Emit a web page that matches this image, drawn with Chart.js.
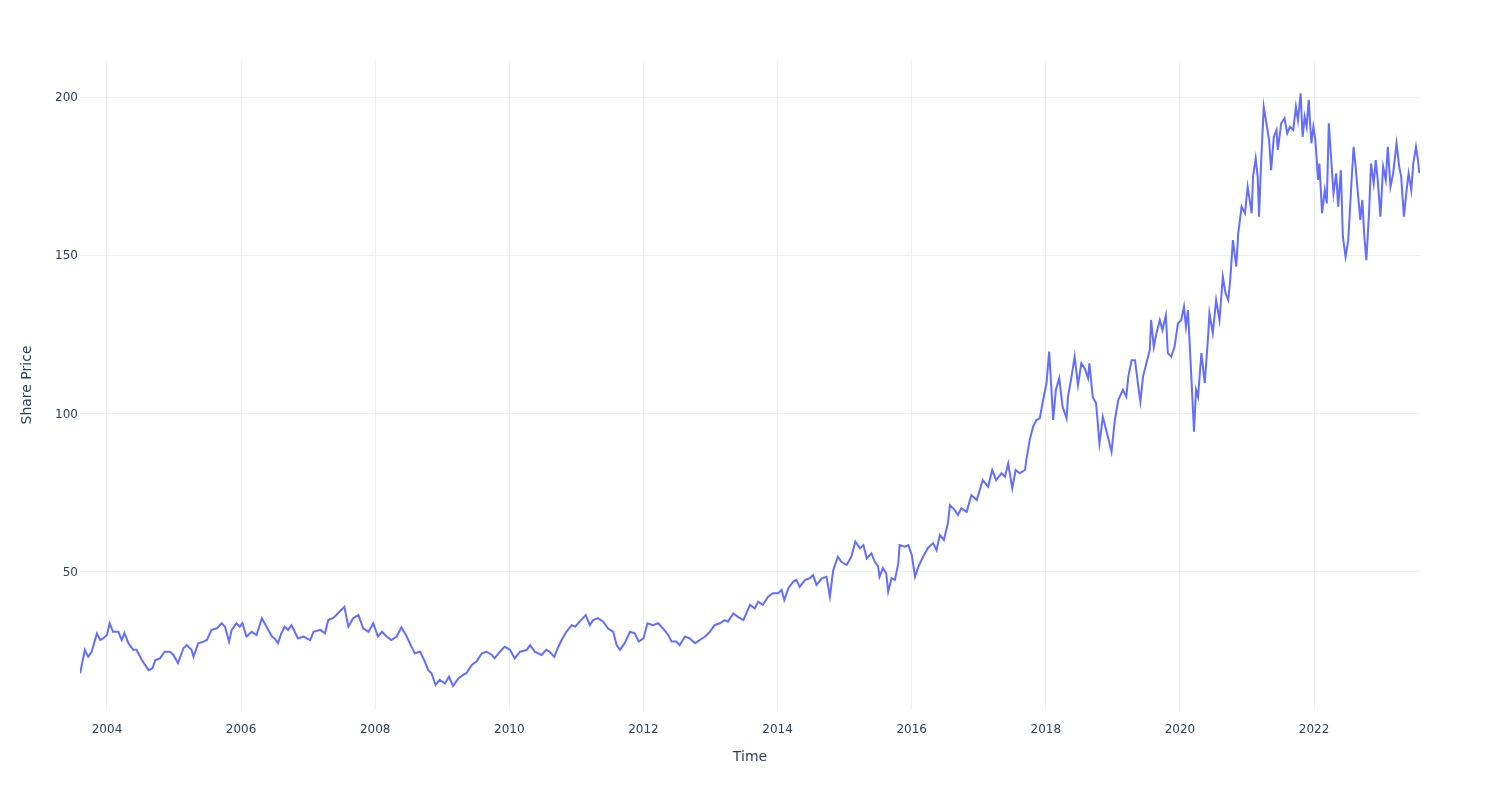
<!DOCTYPE html>
<html>
<head>
<meta charset="utf-8">
<title>Share Price</title>
<script src="https://cdn.jsdelivr.net/npm/chart.js@4/dist/chart.umd.min.js"></script>
<style>
  body { margin: 0; background: #fff; }
  #priceChart { display: block; }
</style>
</head>
<body>
<canvas id="priceChart" width="1500" height="800"></canvas>
<script>
// values (date as decimal year, price)
var dates = [
  2003.60, 2003.67, 2003.72, 2003.77, 2003.85, 2003.90, 2003.94, 2004.00, 2004.04, 2004.09,
  2004.17, 2004.22, 2004.26, 2004.32, 2004.39, 2004.44, 2004.52, 2004.62, 2004.68, 2004.72,
  2004.79, 2004.86, 2004.94, 2004.99, 2005.06, 2005.14, 2005.19, 2005.26, 2005.29, 2005.36,
  2005.44, 2005.49, 2005.56, 2005.64, 2005.71, 2005.76, 2005.82, 2005.86, 2005.93, 2005.98,
  2006.02, 2006.08, 2006.16, 2006.23, 2006.31, 2006.38, 2006.46, 2006.50, 2006.55, 2006.60,
  2006.65, 2006.70, 2006.75, 2006.80, 2006.85, 2006.93, 2007.03, 2007.08, 2007.18, 2007.25,
  2007.30, 2007.37, 2007.42, 2007.47, 2007.54, 2007.60, 2007.67, 2007.75, 2007.82, 2007.90,
  2007.97, 2008.04, 2008.10, 2008.17, 2008.24, 2008.32, 2008.39, 2008.47, 2008.54, 2008.59,
  2008.67, 2008.74, 2008.79, 2008.84, 2008.90, 2008.96, 2009.04, 2009.10, 2009.16, 2009.24,
  2009.31, 2009.36, 2009.44, 2009.51, 2009.59, 2009.66, 2009.74, 2009.78, 2009.86, 2009.93,
  2010.01, 2010.08, 2010.16, 2010.26, 2010.31, 2010.38, 2010.48, 2010.55, 2010.60, 2010.67,
  2010.73, 2010.78, 2010.85, 2010.93, 2010.98, 2011.05, 2011.14, 2011.20, 2011.25, 2011.32,
  2011.40, 2011.47, 2011.55, 2011.60, 2011.65, 2011.72, 2011.80, 2011.87, 2011.93, 2012.00,
  2012.06, 2012.14, 2012.22, 2012.29, 2012.37, 2012.42, 2012.49, 2012.54, 2012.62, 2012.69,
  2012.77, 2012.84, 2012.92, 2012.99, 2013.06, 2013.14, 2013.21, 2013.26, 2013.34, 2013.41,
  2013.49, 2013.59, 2013.66, 2013.71, 2013.78, 2013.86, 2013.93, 2014.01, 2014.06, 2014.10,
  2014.16, 2014.23, 2014.28, 2014.33, 2014.41, 2014.48, 2014.53, 2014.58, 2014.66, 2014.73,
  2014.78, 2014.83, 2014.90, 2014.95, 2015.03, 2015.10, 2015.16, 2015.23, 2015.28, 2015.33,
  2015.40, 2015.45, 2015.50, 2015.52, 2015.57, 2015.62, 2015.65, 2015.70, 2015.75, 2015.80,
  2015.82, 2015.90, 2015.95, 2016.00, 2016.05, 2016.10, 2016.17, 2016.24, 2016.32, 2016.37,
  2016.42, 2016.48, 2016.54, 2016.57, 2016.64, 2016.69, 2016.74, 2016.82, 2016.89, 2016.97,
  2017.06, 2017.14, 2017.20, 2017.26, 2017.34, 2017.39, 2017.44, 2017.50, 2017.55, 2017.61,
  2017.69, 2017.71, 2017.76, 2017.81, 2017.86, 2017.91, 2017.96, 2018.01, 2018.05, 2018.07,
  2018.11, 2018.15, 2018.20, 2018.25, 2018.31, 2018.33, 2018.38, 2018.43, 2018.48, 2018.53,
  2018.58, 2018.63, 2018.65, 2018.70, 2018.75, 2018.80, 2018.85, 2018.90, 2018.98, 2019.03,
  2019.08, 2019.15, 2019.20, 2019.23, 2019.28, 2019.33, 2019.38, 2019.41, 2019.45, 2019.50,
  2019.55, 2019.57, 2019.61, 2019.65, 2019.70, 2019.74, 2019.79, 2019.82, 2019.87, 2019.92,
  2019.97, 2020.02, 2020.06, 2020.09, 2020.12, 2020.15, 2020.17, 2020.21, 2020.24, 2020.27,
  2020.32, 2020.37, 2020.42, 2020.44, 2020.49, 2020.54, 2020.59, 2020.64, 2020.68, 2020.72,
  2020.75, 2020.79, 2020.84, 2020.87, 2020.92, 2020.97, 2021.01, 2021.07, 2021.09, 2021.13,
  2021.16, 2021.18, 2021.21, 2021.25, 2021.29, 2021.33, 2021.36, 2021.40, 2021.44, 2021.46,
  2021.51, 2021.56, 2021.60, 2021.64, 2021.69, 2021.73, 2021.76, 2021.80, 2021.83, 2021.86,
  2021.89, 2021.92, 2021.96, 2021.99, 2022.02, 2022.06, 2022.08, 2022.12, 2022.16, 2022.19,
  2022.22, 2022.26, 2022.29, 2022.33, 2022.36, 2022.40, 2022.43, 2022.47, 2022.51, 2022.56,
  2022.59, 2022.62, 2022.65, 2022.69, 2022.72, 2022.75, 2022.78, 2022.82, 2022.85, 2022.89,
  2022.92, 2022.95, 2022.99, 2023.03, 2023.07, 2023.10, 2023.14, 2023.18, 2023.23, 2023.27,
  2023.30, 2023.34, 2023.38, 2023.41, 2023.45, 2023.48, 2023.52, 2023.55, 2023.57
];

var prices = [
  18.0, 25.4, 23.2, 24.8, 30.6, 28.5, 29.0, 30.1, 33.8, 31.1,
  31.1, 28.5, 30.7, 27.5, 25.4, 25.4, 22.2, 19.0, 19.6, 22.2,
  22.7, 24.8, 24.8, 23.8, 21.2, 25.9, 26.9, 25.4, 23.2, 27.5,
  28.0, 28.5, 31.7, 32.2, 33.8, 32.7, 28.0, 31.7, 33.8, 32.7,
  33.8, 29.6, 31.1, 30.1, 35.4, 32.7, 29.6, 29.0, 27.5, 30.6,
  32.7, 31.7, 33.2, 31.1, 29.0, 29.6, 28.5, 31.1, 31.7, 30.6,
  34.8, 35.4, 36.4, 37.5, 39.0, 32.7, 35.4, 36.4, 32.2, 31.1,
  33.8, 29.6, 31.1, 29.6, 28.5, 29.6, 32.5, 29.6, 26.4, 24.3,
  24.8, 21.7, 19.0, 18.0, 14.3, 15.9, 14.8, 16.9, 14.0, 16.4,
  17.5, 18.0, 20.6, 21.7, 24.3, 24.8, 23.8, 22.7, 24.8, 26.4,
  25.4, 22.7, 24.8, 25.4, 26.9, 24.8, 23.8, 25.4, 24.8, 23.2,
  26.4, 28.5, 31.1, 33.2, 32.7, 34.3, 36.4, 33.2, 34.8, 35.4,
  34.3, 32.2, 31.1, 26.9, 25.4, 27.5, 31.1, 30.6, 28.0, 29.0,
  33.8, 33.2, 33.8, 32.2, 30.1, 28.0, 28.0, 26.9, 29.6, 29.0,
  27.5, 28.5, 29.6, 31.1, 33.2, 33.8, 34.8, 34.3, 36.9, 35.8,
  34.8, 39.6, 38.5, 40.6, 39.6, 42.2, 43.3, 43.3, 44.3, 41.1,
  44.8, 46.9, 47.5, 45.3, 47.5, 48.0, 49.0, 45.9, 48.0, 48.5,
  42.2, 50.6, 54.8, 53.2, 52.2, 54.8, 59.6, 57.5, 58.5, 54.3,
  55.9, 53.2, 51.7, 48.5, 51.2, 49.6, 43.8, 48.0, 47.5, 52.7,
  58.5, 58.0, 58.5, 55.4, 48.5, 51.7, 54.8, 57.5, 59.1, 56.9,
  61.7, 60.1, 65.4, 71.1, 69.6, 68.0, 70.1, 69.0, 74.3, 72.7,
  79.0, 76.9, 82.2, 79.0, 81.2, 80.1, 84.3, 76.4, 82.2, 81.2,
  82.2, 85.4, 91.7, 95.9, 98.0, 98.5, 104.3, 109.6, 119.6, 112.7,
  98.0, 107.5, 111.2, 102.2, 98.5, 105.3, 111.2, 118.0, 109.0, 115.9,
  114.3, 111.2, 115.9, 105.3, 103.3, 90.6, 99.0, 94.8, 88.0, 98.0,
  104.3, 107.5, 105.3, 111.7, 116.9, 116.9, 108.5, 103.8, 111.7, 115.9,
  120.1, 129.6, 121.1, 125.4, 129.6, 126.4, 131.1, 119.1, 118.0, 121.1,
  128.5, 129.6, 133.8, 127.5, 132.7, 120.1, 111.7, 94.3, 107.5, 105.3,
  119.1, 109.6, 124.3, 131.7, 125.4, 135.9, 129.6, 143.2, 138.0, 135.9,
  142.2, 154.8, 146.4, 157.0, 165.4, 163.3, 171.7, 163.3, 174.8, 180.6,
  174.8, 162.2, 179.0, 196.9, 191.7, 186.4, 176.9, 187.4, 189.6, 183.3,
  191.7, 193.3, 188.5, 190.6, 189.6, 196.9, 192.7, 201.2, 187.4, 193.8,
  190.6, 199.1, 185.4, 190.6, 186.4, 173.8, 179.0, 163.3, 170.6, 166.4,
  191.7, 179.0, 169.6, 175.9, 165.4, 176.9, 155.9, 149.6, 154.8, 173.8,
  184.3, 178.0, 170.6, 161.2, 167.5, 155.9, 148.5, 163.3, 179.0, 172.7,
  180.1, 173.8, 162.2, 178.0, 173.8, 184.3, 171.7, 175.9, 185.4, 178.0,
  174.8, 162.2, 170.6, 175.9, 170.6, 179.0, 184.3, 180.1, 176.0
];

var yearTicks = [2004, 2006, 2008, 2010, 2012, 2014, 2016, 2018, 2020, 2022];
var priceTicks = [50, 100, 150, 200];

var fontFamily = '"DejaVu Sans", Verdana, Arial, sans-serif';
var textColor = '#2a3f5f';
var gridColor = '#ebf0f8';

var points = dates.map(function (d, i) { return { x: d, y: prices[i] }; });

var ctx = document.getElementById('priceChart').getContext('2d');
var priceChart = new Chart(ctx, {
	type: 'line',
	data: {
		datasets: [{
			label: 'Share Price',
			data: points,
			fill: false,
			borderColor: '#636efa',
			backgroundColor: '#636efa',
			borderWidth: 2,
			pointRadius: 0,
			tension: 0
		}]
	},
	options: {
		responsive: false,
		animation: false,
		layout: {
			padding: { top: 60, right: 80, bottom: 0, left: 0 }
		},
		plugins: {
			legend: { display: false },
			tooltip: { enabled: false }
		},
		scales: {
			x: {
				type: 'linear',
				min: 2003.5975,
				max: 2023.58,
				afterBuildTicks: function (axis) {
					axis.ticks = yearTicks.map(function (v) { return { value: v }; });
				},
				afterFit: function (axis) { axis.height = 90; },
				grid: { color: gridColor, drawTicks: false },
				border: { display: false },
				ticks: {
					color: textColor,
					font: { family: fontFamily, size: 12 },
					padding: 13,
					maxRotation: 0,
					callback: function (v) { return String(v); }
				},
				title: {
					display: true,
					text: 'Time',
					color: textColor,
					font: { family: fontFamily, size: 14 },
					padding: { top: 0, bottom: 34 }
				}
			},
			y: {
				min: 6.4,
				max: 211.7,
				afterBuildTicks: function (axis) {
					axis.ticks = priceTicks.map(function (v) { return { value: v }; });
				},
				afterFit: function (axis) { axis.width = 80; },
				grid: { color: gridColor, drawTicks: false },
				border: { display: false },
				ticks: {
					color: textColor,
					font: { family: fontFamily, size: 12 },
					padding: 2,
					labelOffset: 1
				},
				title: {
					display: true,
					text: 'Share Price',
					color: textColor,
					font: { family: fontFamily, size: 14 },
					padding: { top: 19, bottom: 0 }
				}
			}
		}
	}
});
</script>
</body>
</html>
